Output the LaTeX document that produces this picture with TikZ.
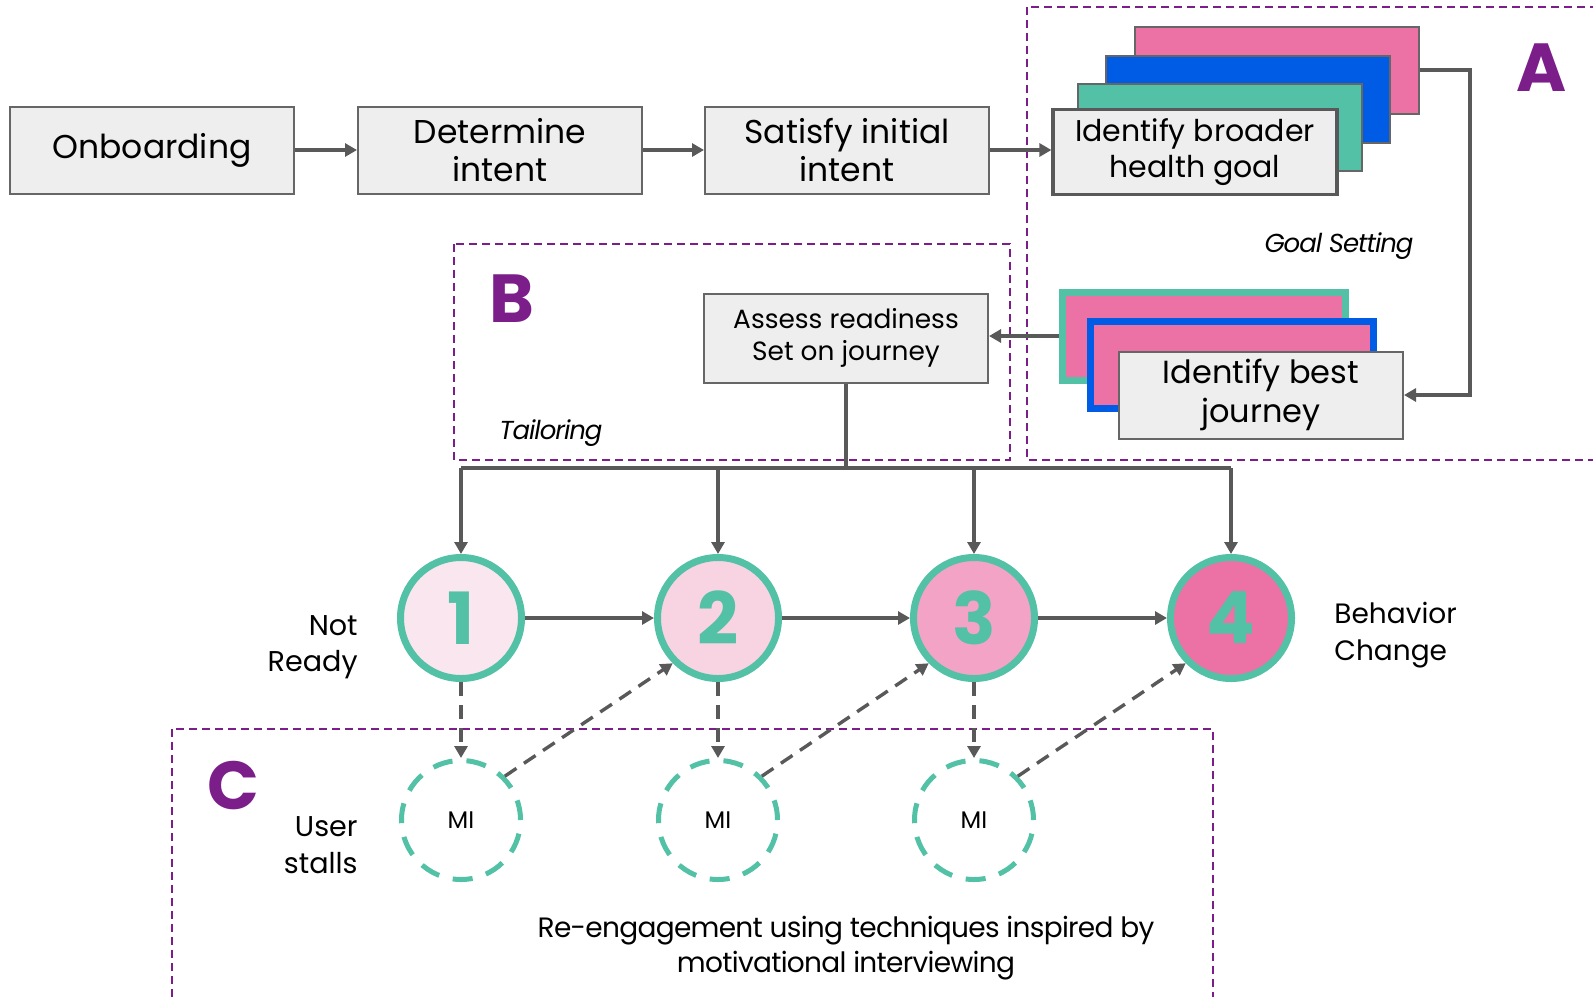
\documentclass[tikz,border=0pt]{standalone}
\usepackage{fontspec}
\setmainfont{Poppins}
\usetikzlibrary{arrows.meta,calc}
\definecolor{boxfill}{HTML}{EEEEEE}
\definecolor{boxline}{HTML}{666666}
\definecolor{arr}{HTML}{595959}
\definecolor{mint}{HTML}{52C1A5}
\definecolor{pinkish}{HTML}{EC72A5}
\definecolor{bluish}{HTML}{005BE5}
\definecolor{purp}{HTML}{7B1E8A}
\definecolor{st1}{HTML}{FAE6EE}
\definecolor{st2}{HTML}{F8D3E2}
\definecolor{st3}{HTML}{F2A3C6}

\begin{document}
\begin{tikzpicture}[x=0.5pt,y=-0.5pt]
\tikzstyle{box}=[draw=boxline,fill=boxfill,line width=1pt,minimum width=142pt,minimum height=43.5pt,align=center,inner sep=0pt]
\tikzstyle{big}=[font=\fontsize{16.5}{18.8}\selectfont]
\tikzstyle{conn}=[draw=arr,line width=1.7pt]
\tikzstyle{dconn}=[conn,dash pattern=on 7pt off 4.5pt]
\tikzstyle{arrowed}=[-{Triangle[length=6pt,width=6.5pt]}]
\tikzstyle{frame}=[draw=purp,dash pattern=on 4pt off 2.5pt,line width=0.9pt]
\tikzstyle{stage}=[circle,draw=mint,line width=3.5pt,minimum size=60.5pt,inner sep=0pt,text=mint,font=\fontsize{36}{36}\selectfont\bfseries]
\tikzstyle{mi}=[circle,draw=mint,line width=2.5pt,dash pattern=on 10pt off 7pt,minimum size=59.5pt,inner sep=0pt,font=\fontsize{12}{14}\selectfont]
\tikzstyle{letter}=[text=purp,inner sep=0pt,font=\fontsize{34}{34}\selectfont\bfseries]
\tikzstyle{side}=[inner sep=0pt,font=\fontsize{14.3}{18.3}\selectfont]
\tikzstyle{phase}=[inner sep=0pt,font=\fontsize{13}{16}\selectfont\itshape\addfontfeatures{LetterSpace=-4}]

\clip (0,0) rectangle (1593,996);

% dashed groups
\draw[frame] (1027,7) rectangle (1620,460);
\draw[frame] (454,244) rectangle (1010,460);
\draw[frame] (172,729) rectangle (1213,1020);

\node[letter] (la) at (1542,68) {A};
\node[letter] (lb) at (512,299) {B};
\node[letter] (lc) at (233,786) {C};
\node[phase] (gs) at (1339,246) {Goal Setting};
\node[phase] (tl) at (551,433) {Tailoring};

% top row
\node[box,big] (onb) at (152,150) {Onboarding};
\node[box,big] (det) at (500,150) {Determine\\intent};
\node[box,big] (sat) at (847,150) {Satisfy initial\\intent};

\node[box,fill=pinkish] (goal3) at (1277,70) {};
\node[box,fill=bluish] (goal2) at (1248,99) {};
\node[box,fill=mint] (goal1) at (1220,127) {};
\node[box,line width=1.6pt,draw=arr,minimum height=42.5pt,font=\fontsize{15}{17.8}\selectfont] (goal) at (1195,152) {Identify broader\\health goal};

\node[box,draw=mint,line width=3.5pt,fill=pinkish,minimum width=141.5pt,minimum height=44pt] (best2) at (1204,336) {};
\node[box,draw=bluish,line width=3.5pt,fill=pinkish,minimum width=141.5pt,minimum height=43.5pt] (best1) at (1232,365) {};
\node[box,font=\fontsize{16}{19.6}\selectfont] (best) at (1261,395) {Identify best\\journey};

\node[box,minimum height=44.5pt,font=\fontsize{13.2}{16.3}\selectfont] (assess) at (846,338) {Assess readiness\\Set on journey};

\draw[conn,arrowed] (onb) -- (det);
\draw[conn,arrowed] (det) -- (sat);
\draw[conn,arrowed] (sat) -- (sat -| goal.west);
\draw[conn,arrowed] (goal3.east) -- ++(50,0) |- (best.east);
\draw[conn,arrowed] (best2.west) -- (best2.west -| assess.east);

% stages
\foreach \i/\x/\c in {1/461/st1,2/718/st2,3/974/st3,4/1231/pinkish}
  \node[stage,fill=\c] (s\i) at (\x,618) {\i};

\node[side,anchor=east,align=right] (nr) at (358,647) {Not\\Ready};
\node[side,anchor=west,align=left,font=\fontsize{14}{18.3}\selectfont] (bc) at (1334,635) {Behavior\\Change};
\node[side,anchor=east,align=right] (us) at (358,845) {User\\stalls};

\coordinate (bus) at (846,468);
\draw[conn] (assess) -- (bus);
\draw[conn] (bus -| s1) -- (bus -| s4);
\foreach \i in {1,...,4}
  \draw[conn,arrowed] (bus -| s\i) -- (s\i);
\foreach \i/\j in {1/2,2/3,3/4}
  \draw[conn,arrowed] (s\i) -- (s\j);

% re-engagement
\foreach \i/\x in {1/461,2/718,3/974} {
  \node[mi] (m\i) at (\x,820) {MI};
  \draw[dconn,arrowed] (s\i) -- (m\i);
}
\foreach \i/\j in {1/2,2/3,3/4}
  \draw[dconn,arrowed] (m\i.45) -- (s\j.225);

\node[side,align=center,font=\fontsize{14}{17.5}\selectfont\addfontfeatures{LetterSpace=-2.5}] (re) at (846,948) {Re-engagement using techniques inspired by\\motivational interviewing};
\end{tikzpicture}
\end{document}
